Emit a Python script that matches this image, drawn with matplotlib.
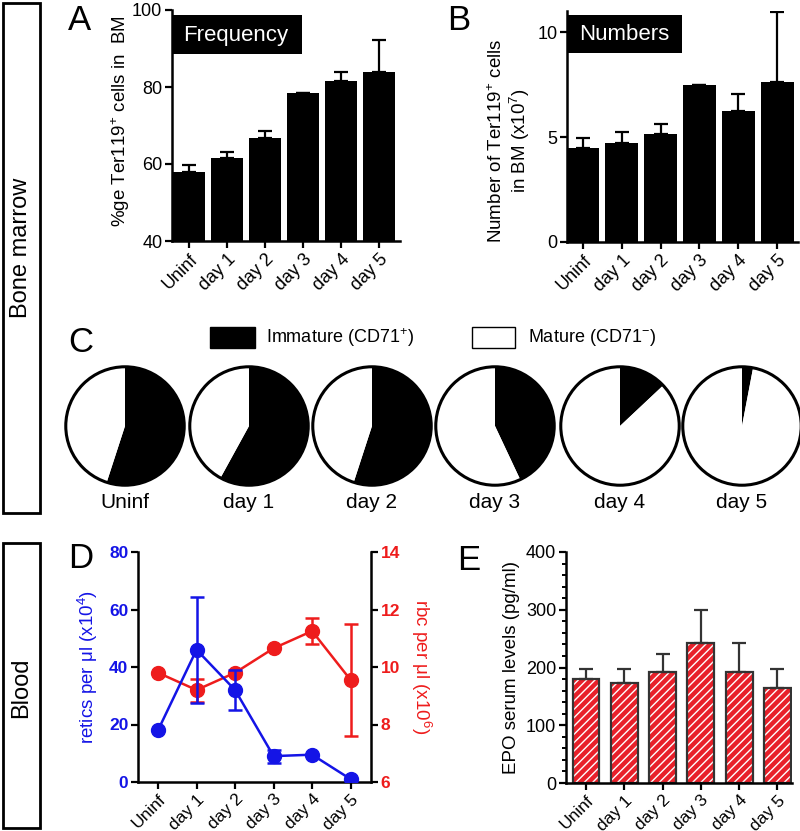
import numpy as np
import matplotlib
matplotlib.use("Agg")
import matplotlib.pyplot as plt
from matplotlib.patches import Rectangle
from matplotlib.ticker import MultipleLocator

plt.rcParams['font.family'] = ['Liberation Sans', 'DejaVu Sans']
plt.rcParams['mathtext.fontset'] = 'custom'
plt.rcParams['mathtext.rm'] = 'Liberation Sans'
plt.rcParams['mathtext.it'] = 'Liberation Sans'
plt.rcParams['hatch.linewidth'] = 1.0

days = ["Uninf", "day 1", "day 2", "day 3", "day 4", "day 5"]

# A - frequency of Ter119+ cells in BM (%)
freq = [58.0, 61.5, 66.8, 78.5, 81.5, 84.0]
freq_err = [1.8, 1.7, 1.7, 0.0, 2.3, 8.3]

# B - number of Ter119+ cells (x10^7)
numbers = [4.5, 4.7, 5.15, 7.5, 6.25, 7.6]
numbers_err = [0.45, 0.55, 0.45, 0.0, 0.8, 3.35]

# C - immature (CD71+) fraction
immature = [0.55, 0.58, 0.55, 0.43, 0.13, 0.03]

# D - blood
retics = [18.0, 46.0, 32.0, 9.0, 9.5, 1.0]
retics_err = [0.0, 18.5, 7.0, 2.3, 0.0, 0.0]
rbc = [9.8, 9.2, 9.8, 10.65, 11.25, 9.55]
rbc_err = [0.0, 0.4, 0.0, 0.0, 0.45, 1.95]

# E - EPO serum levels
epo = [180, 173, 192, 243, 193, 164]
epo_err = [17, 25, 32, 57, 50, 34]

W, H = 800, 831
fig = plt.figure(figsize=(W / 100, H / 100), dpi=100)


def ax_px(l, t, r, b):
    return fig.add_axes([l / W, 1 - b / H, (r - l) / W, (b - t) / H])


def rect_px(l, t, r, b, **kw):
    fig.add_artist(Rectangle((l / W, 1 - b / H), (r - l) / W, (b - t) / H,
                             transform=fig.transFigure, **kw))


def txt_px(x, y, s, **kw):
    fig.text(x / W, 1 - y / H, s, **kw)


def style(ax):
    for s in ["top", "right"]:
        ax.spines[s].set_visible(False)
    for s in ["left", "bottom"]:
        ax.spines[s].set_linewidth(1.8)
    ax.tick_params(width=1.6, length=5, labelsize=13, pad=2)


x = np.arange(len(days))

# ---- panel A
axA = ax_px(172, 10, 400, 241)
axA.bar(x, freq, width=0.84, color="black")
axA.errorbar(x, freq, yerr=[np.zeros(6), freq_err], fmt="none", ecolor="black",
             elinewidth=1.6, capsize=5, capthick=1.6)
axA.set_ylim(40, 100)
axA.set_xlim(-0.45, 5.55)
axA.set_yticks([40, 60, 80, 100])
axA.set_xticks(x)
axA.set_xticklabels(days, rotation=45, ha="right", rotation_mode="anchor")
axA.set_ylabel(r"%ge Ter119$^{+}$ cells in  BM", fontsize=13.5)
axA.yaxis.set_label_coords(-0.175, 0.52)
style(axA)
rect_px(172, 15, 302, 54, facecolor="black", edgecolor="none")
txt_px(236, 35, "Frequency", color="white", fontsize=16, ha="center", va="center")

# ---- panel B
axB = ax_px(567, 11, 798, 242)
axB.bar(x, numbers, width=0.85, color="black")
axB.errorbar(x, numbers, yerr=[np.zeros(6), numbers_err], fmt="none", ecolor="black",
             elinewidth=1.6, capsize=5, capthick=1.6)
axB.set_ylim(0, 11)
axB.set_xlim(-0.41, 5.54)
axB.set_yticks([0, 5, 10])
axB.set_xticks(x)
axB.set_xticklabels(days, rotation=45, ha="right", rotation_mode="anchor")
axB.set_ylabel("Number of Ter119$^{+}$ cells\nin BM (x10$^{7}$)", fontsize=13.5,
               linespacing=1.1)
axB.yaxis.set_label_coords(-0.15, 0.44)
style(axB)
rect_px(567, 15, 682, 53, facecolor="black", edgecolor="none")
txt_px(624, 34, "Numbers", color="white", fontsize=16, ha="center", va="center")

# ---- panel C
rect_px(210, 327, 255, 348, facecolor="black", edgecolor="black", linewidth=1)
txt_px(266, 338, "Immature (CD71$^{+}$)", fontsize=13, va="center")
rect_px(472, 327, 515, 348, facecolor="white", edgecolor="black", linewidth=1)
txt_px(528, 338, "Mature (CD71$^{-}$)", fontsize=13, va="center")

centers = [125, 249, 372, 495, 620, 742]
for cx, frac, lab in zip(centers, immature, days):
    axp = ax_px(cx - 61, 426 - 61, cx + 61, 426 + 61)
    axp.pie([frac, 1 - frac], colors=["black", "white"], startangle=90,
            counterclock=False, wedgeprops=dict(linewidth=0))
    axp.add_patch(plt.Circle((0, 0), 1, fill=False, edgecolor="black", linewidth=2.2))
    axp.set_xlim(-1.03, 1.03)
    axp.set_ylim(-1.03, 1.03)
    axp.set_aspect("equal")
    axp.axis("off")
    txt_px(cx, 503, lab, fontsize=15, ha="center", va="center")

# ---- panel D
blue = "#1414e6"
red = "#ee1c1c"
axD = ax_px(138, 552, 371, 782)
axD2 = axD.twinx()
axD.errorbar(x, retics, yerr=retics_err, color=blue, marker="o", markersize=10,
             linewidth=1.8, elinewidth=1.8, capsize=5, capthick=1.8, zorder=3)
axD2.errorbar(x, rbc, yerr=rbc_err, color=red, marker="o", markersize=10,
              linewidth=1.8, elinewidth=1.8, capsize=5, capthick=1.8)
axD.set_zorder(axD2.get_zorder() + 1)
axD.patch.set_visible(False)
axD.set_ylim(0, 80)
axD.set_yticks([0, 20, 40, 60, 80])
axD2.set_ylim(6, 14)
axD2.set_yticks([6, 8, 10, 12, 14])
axD.set_xlim(-0.52, 5.53)
axD.set_xticks(x)
axD.set_xticklabels(days, rotation=45, ha="right", rotation_mode="anchor")
axD.spines["top"].set_visible(False)
axD2.spines["top"].set_visible(False)
axD2.spines["left"].set_visible(False)
axD2.spines["bottom"].set_visible(False)
axD.spines["right"].set_visible(False)
for s in ["left", "bottom"]:
    axD.spines[s].set_linewidth(1.8)
axD2.spines["right"].set_linewidth(1.8)
axD.tick_params(width=1.6, length=5, labelsize=12.5, pad=2)
axD2.tick_params(width=1.6, length=5, labelsize=12.5, pad=2)
for t in axD.get_yticklabels():
    t.set_color(blue)
    t.set_fontweight("bold")
for t in axD2.get_yticklabels():
    t.set_color(red)
    t.set_fontweight("bold")
axD.set_ylabel("retics per μl (x10$^{4}$)", color=blue, fontsize=13.5)
axD.yaxis.set_label_coords(-0.165, 0.5)
axD2.set_ylabel("rbc per μl (x10$^{6}$)", color=red, fontsize=13.5, rotation=270,
                va="center")
axD2.yaxis.set_label_coords(1.215, 0.5)

# ---- panel E
axE = ax_px(566, 552, 792, 783)
axE.bar(x, epo, width=0.70, color="#e8202a", edgecolor="white", hatch="////",
        linewidth=0)
axE.bar(x, epo, width=0.70, color="none", edgecolor="#333333", linewidth=1.6)
axE.errorbar(x, epo, yerr=[np.zeros(6), epo_err], fmt="none", ecolor="#333333",
             elinewidth=1.6, capsize=5, capthick=1.6)
axE.set_ylim(0, 400)
axE.set_xlim(-0.52, 5.38)
axE.set_yticks([0, 100, 200, 300, 400])
style(axE)
axE.tick_params(axis="x", labelsize=12.5)
axE.yaxis.set_minor_locator(MultipleLocator(20))
axE.tick_params(axis="y", which="minor", length=3, width=1.4)
axE.set_xticks(x)
axE.set_xticklabels(days, rotation=45, ha="right", rotation_mode="anchor")
axE.set_ylabel("EPO serum levels (pg/ml)", fontsize=13.5)
axE.yaxis.set_label_coords(-0.205, 0.5)

# ---- panel letters
for lx, ly, s in [(68, 20, "A"), (447, 20, "B"), (68, 342, "C"),
                  (68, 558, "D"), (457, 561, "E")]:
    txt_px(lx, ly, s, fontsize=25, va="center")

# ---- row labels
rect_px(3, 3, 40, 513, facecolor="none", edgecolor="black", linewidth=2)
txt_px(21, 248, "Bone marrow", fontsize=17, rotation=90, ha="center", va="center")
rect_px(3, 543, 40, 828, facecolor="none", edgecolor="black", linewidth=2)
txt_px(21, 688, "Blood", fontsize=17, rotation=90, ha="center", va="center")

fig.savefig("out.png", dpi=100)
